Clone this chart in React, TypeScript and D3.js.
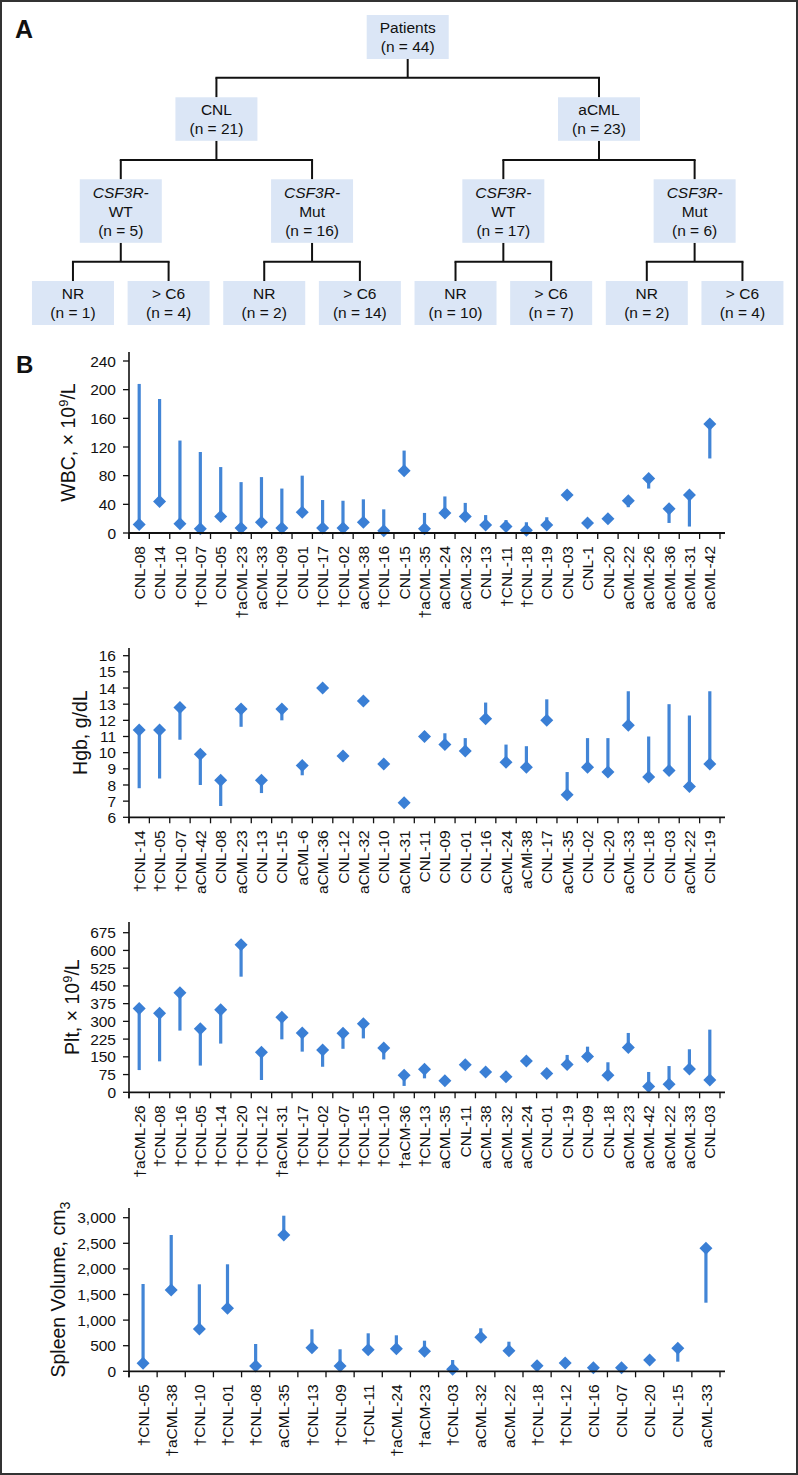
import React from "react";
import * as d3 from "d3";

// ---------- Panel A data ----------
const treeData = {
  lines: ["Patients", "(n = 44)"],
  children: [
    {
      lines: ["CNL", "(n = 21)"],
      children: [
        { lines: ["CSF3R-", "WT", "(n = 5)"], children: [{ lines: ["NR", "(n = 1)"] }, { lines: ["> C6", "(n = 4)"] }] },
        { lines: ["CSF3R-", "Mut", "(n = 16)"], children: [{ lines: ["NR", "(n = 2)"] }, { lines: ["> C6", "(n = 14)"] }] },
      ],
    },
    {
      lines: ["aCML", "(n = 23)"],
      children: [
        { lines: ["CSF3R-", "WT", "(n = 17)"], children: [{ lines: ["NR", "(n = 10)"] }, { lines: ["> C6", "(n = 7)"] }] },
        { lines: ["CSF3R-", "Mut", "(n = 6)"], children: [{ lines: ["NR", "(n = 2)"] }, { lines: ["> C6", "(n = 4)"] }] },
      ],
    },
  ],
};

// ---------- Panel B data ----------
const wbcLabels = ["CNL-08", "CNL-14", "CNL-10", "†CNL-07", "CNL-05", "†aCML-23", "aCML-33", "†CNL-09", "CNL-01", "†CNL-17", "†CNL-02", "aCML-38", "†CNL-16", "CNL-15", "†aCML-35", "aCML-24", "aCML-32", "CNL-13", "†CNL-11", "†CNL-18", "CNL-19", "CNL-03", "CNL-1", "CNL-20", "aCML-22", "aCML-26", "aCML-36", "aCML-31", "aCML-42"];
const wbcValues = [12, 44, 13, 6, 23, 7, 15, 7, 29, 7, 7, 15, 3, 87, 6, 28, 23, 11, 9, 4, 11, 53, 14, 20, 45, 76, 34, 53, 152];
const wbcOther = [208, 187, 129, 113, 92, 71, 78, 62, 80, 46, 45, 47, 33, 115, 28, 51, 42, 25, 18, 15, 22, 53, 14, 20, 36, 62, 14, 9, 104];
const wbcTicks = [0, 40, 80, 120, 160, 200, 240];

const hgbLabels = ["†CNL-14", "†CNL-05", "†CNL-07", "aCML-42", "CNL-08", "aCML-23", "CNL-13", "CNL-15", "aCML-6", "aCML-36", "CNL-12", "aCML-32", "CNL-10", "aCML-31", "CNL-11", "CNL-09", "CNL-01", "CNL-16", "aCML-24", "aCMl-38", "CNL-17", "aCML-35", "CNL-02", "CNL-20", "aCML-33", "CNL-18", "CNL-03", "aCML-22", "CNL-19"];
const hgbValues = [11.4, 11.4, 12.8, 9.9, 8.3, 12.7, 8.3, 12.7, 9.2, 14.0, 9.8, 13.2, 9.3, 6.9, 11.0, 10.5, 10.1, 12.1, 9.4, 9.1, 12.0, 7.4, 9.1, 8.8, 11.7, 8.5, 8.9, 7.9, 9.3];
const hgbOther = [7.8, 8.4, 10.8, 8.0, 6.7, 11.6, 7.5, 12.0, 8.6, 13.7, 9.8, 13.2, 9.3, 6.9, 11.3, 11.2, 10.9, 13.1, 10.5, 10.4, 13.3, 8.8, 10.9, 10.9, 13.8, 11.0, 13.0, 12.3, 13.8];
const hgbTicks = [6, 7, 8, 9, 10, 11, 12, 13, 14, 15, 16];

const pltLabels = ["†aCML-26", "†CNL-08", "†CNL-16", "†CNL-05", "†CNL-14", "†CNL-20", "†CNL-12", "†aCML-31", "†CNL-17", "†CNL-02", "†CNL-07", "†CNL-15", "†CNL-10", "†aCM-36", "†CNL-13", "aCML-35", "CNL-11", "aCML-38", "aCML-32", "aCML-24", "CNL-01", "CNL-19", "CNL-09", "CNL-18", "aCML-23", "aCML-42", "aCML-22", "aCML-33", "CNL-03"];
const pltValues = [354, 334, 421, 269, 349, 624, 169, 317, 251, 179, 250, 290, 187, 72, 97, 49, 117, 86, 66, 132, 79, 118, 151, 72, 190, 25, 34, 99, 52];
const pltOther = [94, 131, 261, 113, 206, 489, 52, 224, 172, 108, 184, 228, 139, 27, 59, 49, 117, 86, 66, 132, 79, 158, 193, 127, 251, 86, 111, 182, 265];
const pltTicks = [0, 75, 150, 225, 300, 375, 450, 525, 600, 675];

const spleenLabels = ["†CNL-05", "†aCML-38", "†CNL-10", "†CNL-01", "†CNL-08", "aCML-35", "†CNL-13", "†CNL-09", "†CNL-11", "†aCML-24", "†aCM-23", "†CNL-03", "aCML-32", "aCML-22", "†CNL-18", "†CNL-12", "CNL-16", "CNL-07", "CNL-20", "CNL-15", "aCML-33"];
const spleenValues = [156, 1588, 826, 1230, 104, 2662, 461, 104, 422, 441, 390, 39, 664, 403, 109, 162, 70, 70, 221, 449, 2402];
const spleenOther = [1705, 2662, 1699, 2090, 533, 3039, 820, 430, 742, 703, 598, 221, 840, 578, 200, 250, 70, 70, 221, 188, 1340];
const spleenTicks = [0, 500, 1000, 1500, 2000, 2500, 3000];

// ---------- styling ----------
const FONT = "'Liberation Sans', Arial, Helvetica, sans-serif";
const BLUE = "#3a7fd5";
const LINE_BLUE = "#4285d6";
const BOX_FILL = "#dbe6f6";

const X0 = 129;
const X1 = 720;
const XEND = 725;

type ChartProps = {
  labels: string[];
  values: number[];
  other: number[];
  ticks: number[];
  domain: [number, number];
  yMaxPx: number;
  yMinPx: number;
  axisTop: number;
  title: React.ReactNode;
  titleX: number;
  fmt: (v: number) => string;
};

function Chart(p: ChartProps) {
  const x = d3.scaleBand<string>().domain(p.labels).range([X0, X1]).padding(0);
  const y = d3.scaleLinear().domain(p.domain).range([p.yMinPx, p.yMaxPx]);
  const bw = x.bandwidth();
  const y0 = p.yMinPx;
  const r = 6.5;
  const diamond = (cx: number, cy: number) =>
    `M${cx},${cy - r}L${cx + r},${cy}L${cx},${cy + r}L${cx - r},${cy}Z`;
  const boundaries = d3.range(p.labels.length + 1).map((i) => X0 + i * bw);
  const titleY = (p.axisTop + y0) / 2;
  return (
    <g>
      {p.labels.map((l, i) => {
        const cx = (x(l) as number) + bw / 2;
        const a = y(p.values[i]);
        const b = y(p.other[i]);
        if (Math.abs(a - b) < 0.5) return null;
        return <line key={"l" + i} x1={cx} x2={cx} y1={a} y2={b} stroke={LINE_BLUE} strokeWidth={3.2} />;
      })}
      {p.labels.map((l, i) => {
        const cx = (x(l) as number) + bw / 2;
        return <path key={"d" + i} d={diamond(cx, y(p.values[i]))} fill={BLUE} />;
      })}
      <line x1={X0} x2={X0} y1={p.axisTop} y2={y0 + 6} stroke="#111" strokeWidth={1.6} />
      <line x1={X0} x2={XEND} y1={y0} y2={y0} stroke="#111" strokeWidth={1.8} />
      {boundaries.map((bx, i) => (
        <line key={"xt" + i} x1={bx} x2={bx} y1={y0} y2={y0 + 6} stroke="#111" strokeWidth={1.3} />
      ))}
      {p.ticks.map((t) => (
        <g key={"yt" + t}>
          <line x1={X0 - 6} x2={X0} y1={y(t)} y2={y(t)} stroke="#111" strokeWidth={1.3} />
          <text x={X0 - 13} y={y(t)} dy="0.36em" textAnchor="end" fontSize={15.5} fontFamily={FONT} fill="#111">
            {p.fmt(t)}
          </text>
        </g>
      ))}
      {p.labels.map((l, i) => {
        const cx = (x(l) as number) + bw / 2;
        return (
          <text
            key={"xl" + i}
            transform={`translate(${cx},${y0 + 13}) rotate(-90)`}
            dy="0.36em"
            textAnchor="end"
            fontSize={15.5}
            fontFamily={FONT}
            fill="#111"
          >
            {l}
          </text>
        );
      })}
      <text
        transform={`translate(${p.titleX},${titleY}) rotate(-90)`}
        dy="0.36em"
        textAnchor="middle"
        fontSize={19.5}
        fontFamily={FONT}
        fill="#111"
      >
        {p.title}
      </text>
    </g>
  );
}

type TNode = { lines: string[]; children?: TNode[] };

function Tree() {
  const root = d3.hierarchy<TNode>(treeData as TNode);
  const layout = d3.tree<TNode>().nodeSize([95.64, 1]).separation(() => 1);
  layout(root);
  const rootX = 407.7;
  const boxTop = [15, 97.3, 179.3, 281];
  const boxH = [44, 43.5, 63.5, 44];
  const barY = [0, 77.7, 160, 261.7];
  const boxW = 82;
  const nodes = root.descendants();
  const cxOf = (n: d3.HierarchyNode<TNode>) => rootX + (n as any).x;
  return (
    <g>
      {nodes.map((n, i) =>
        n.children ? (
          <g key={"c" + i}>
            <line
              x1={cxOf(n)}
              x2={cxOf(n)}
              y1={boxTop[n.depth] + boxH[n.depth]}
              y2={barY[n.depth + 1]}
              stroke="#111"
              strokeWidth={2}
            />
            <line
              x1={cxOf(n.children[0]) - 1}
              x2={cxOf(n.children[n.children.length - 1]) + 1}
              y1={barY[n.depth + 1]}
              y2={barY[n.depth + 1]}
              stroke="#111"
              strokeWidth={2}
            />
            {n.children.map((c, j) => (
              <line
                key={j}
                x1={cxOf(c)}
                x2={cxOf(c)}
                y1={barY[c.depth]}
                y2={boxTop[c.depth]}
                stroke="#111"
                strokeWidth={2}
              />
            ))}
          </g>
        ) : null
      )}
      {nodes.map((n, i) => {
        const cx = cxOf(n);
        const top = boxTop[n.depth];
        const h = boxH[n.depth];
        const lines = n.data.lines;
        const lh = 19;
        const startY = top + h / 2 - ((lines.length - 1) * lh) / 2;
        return (
          <g key={"b" + i}>
            <rect x={cx - boxW / 2} y={top} width={boxW} height={h} fill={BOX_FILL} />
            {lines.map((t, k) => (
              <text
                key={k}
                x={cx}
                y={startY + k * lh}
                dy="0.36em"
                textAnchor="middle"
                fontSize={15.5}
                fontFamily={FONT}
                fontStyle={t === "CSF3R-" ? "italic" : "normal"}
                fill="#111"
              >
                {t}
              </text>
            ))}
          </g>
        );
      })}
    </g>
  );
}

export default function App() {
  const comma = d3.format(",");
  return (
    <svg
      width={798}
      height={1475}
      style={{ position: "absolute", left: 0, top: 0, background: "#fff" }}
      xmlns="http://www.w3.org/2000/svg"
    >
      <rect x={0} y={0} width={798} height={1475} fill="#fff" />
      <rect x={1} y={1} width={796} height={1473} fill="none" stroke="#333" strokeWidth={2} />
      <text x={15} y={38} fontSize={25} fontWeight="bold" fontFamily={FONT} fill="#111">A</text>
      <Tree />
      <text x={16} y={373} fontSize={24} fontWeight="bold" fontFamily={FONT} fill="#111">B</text>
      <Chart
        labels={wbcLabels}
        values={wbcValues}
        other={wbcOther}
        ticks={wbcTicks}
        domain={[0, 240]}
        yMaxPx={361}
        yMinPx={533}
        axisTop={352}
        titleX={68}
        fmt={(v) => String(v)}
        title={
          <>
            WBC, × 10<tspan dy={-7} fontSize={13}>9</tspan>
            <tspan dy={7}>/L</tspan>
          </>
        }
      />
      <Chart
        labels={hgbLabels}
        values={hgbValues}
        other={hgbOther}
        ticks={hgbTicks}
        domain={[6, 16]}
        yMaxPx={655.7}
        yMinPx={817.3}
        axisTop={648}
        titleX={80}
        fmt={(v) => String(v)}
        title={<>Hgb, g/dL</>}
      />
      <Chart
        labels={pltLabels}
        values={pltValues}
        other={pltOther}
        ticks={pltTicks}
        domain={[0, 675]}
        yMaxPx={932.7}
        yMinPx={1092.3}
        axisTop={922}
        titleX={72}
        fmt={(v) => String(v)}
        title={
          <>
            Plt, × 10<tspan dy={-7} fontSize={13}>9</tspan>
            <tspan dy={7}>/L</tspan>
          </>
        }
      />
      <Chart
        labels={spleenLabels}
        values={spleenValues}
        other={spleenOther}
        ticks={spleenTicks}
        domain={[0, 3000]}
        yMaxPx={1217.7}
        yMinPx={1371.3}
        axisTop={1208}
        titleX={58}
        fmt={(v) => comma(v)}
        title={
          <>
            Spleen Volume, cm<tspan dy={5} fontSize={14}>3</tspan>
          </>
        }
      />
    </svg>
  );
}
